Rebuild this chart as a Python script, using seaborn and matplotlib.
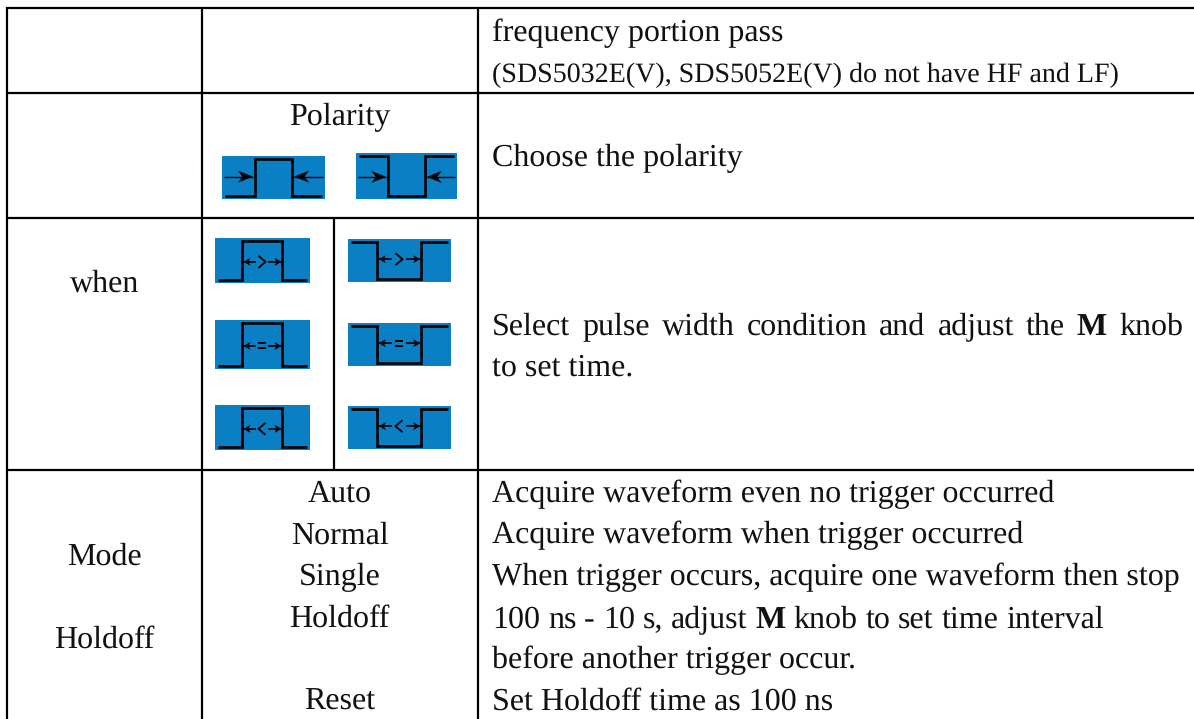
import matplotlib
matplotlib.use("Agg")
from matplotlib import pyplot as plt
import seaborn as sns

W, H = 1194, 719
TEXT_COLOR = "#111111"
ICON_COLOR = "#0a7fc4"
BODY_SIZE = 23.3
SMALL_SIZE = 20.0
TEXT_X = 492

# table grid, in image pixels
col_left, col_mid, col_sub, col_right = 7, 202, 334, 478
row_ys = [8, 93, 218, 470]

first_col_labels = ["when", "Mode", "Holdoff"]
first_col_base = [292, 565, 648]
mid_col_labels = ["Polarity", "Auto", "Normal", "Single", "Holdoff", "Reset"]
mid_col_base = [125, 502, 544, 585, 627, 710]
right_col_lines = [
    "frequency portion pass",
    "Choose the polarity",
    "to set time.",
    "Acquire waveform even no trigger occurred",
    "Acquire waveform when trigger occurred",
    "When trigger occurs, acquire one waveform then stop",
    "before another trigger occur.",
    "Set Holdoff time as 100 ns",
]
right_col_base = [41, 166, 376, 502, 543, 585, 668, 710]
small_note = "(SDS5032E(V), SDS5052E(V) do not have HF and LF)"
select_line = "Select pulse width condition and adjust the *M knob"
interval_line = "100 ns - 10 s, adjust *M knob to set time interval"

polarity_icons = [(222, 156, 325, 199, "up"), (356, 153, 457, 199, "down")]
width_icons = [
    (215, 238, 310, 283, "up", ">"),
    (215, 320, 310, 369, "up", "="),
    (215, 405, 310, 450, "up", "<"),
    (348, 239, 451, 282, "down", ">"),
    (348, 323, 451, 366, "down", "="),
    (348, 406, 451, 449, "down", "<"),
]

sns.set_theme(style="white")
plt.rcParams["font.family"] = ["Liberation Serif", "DejaVu Serif"]
plt.rcParams["text.hinting"] = "none"
plt.rcParams["text.hinting_factor"] = 1

fig = plt.figure(figsize=(W / 100, H / 100), dpi=100)
ax = fig.add_axes([0, 0, 1, 1])
renderer = fig.canvas.get_renderer()


def path(xs, ys, lw=1.6, color="black", z=3):
    sns.lineplot(x=xs, y=ys, sort=False, estimator=None, color=color, linewidth=lw,
                 legend=False, ax=ax, zorder=z, solid_capstyle="butt",
                 solid_joinstyle="miter")


def words(x, y, line, x_end, size=BODY_SIZE):
    # words starting with * are bold, x_end stretches the gaps to justify the line
    items = []
    for w in line.split(" "):
        bold = w.startswith("*")
        t = ax.text(x, y, w.lstrip("*"), fontsize=size, color=TEXT_COLOR, va="baseline",
                    fontweight="bold" if bold else "normal")
        items.append((t, t.get_window_extent(renderer).width))
    gap = (x_end - x - sum(i[1] for i in items)) / (len(items) - 1)
    pos = x
    for t, width in items:
        t.set_x(pos)
        pos += width + gap


def arrow(x0, x1, y, head_len, head_h, lw):
    path([x0, x1], [y, y], lw=lw)
    d = 1 if x1 > x0 else -1
    ax.fill([x1, x1 - d * head_len, x1 - d * head_len * 0.7, x1 - d * head_len],
            [y, y - head_h, y, y + head_h], color="black", lw=0, zorder=3)


def pulse(x0, y0, x1, y1, kind, edges):
    ax.fill([x0, x1, x1, x0], [y0, y0, y1, y1], color=ICON_COLOR, lw=0, zorder=1)
    w, h = x1 - x0, y1 - y0
    top, bot = y0 + 0.07 * h, y0 + 0.93 * h
    fx = [0.03, edges[0], edges[0], edges[1], edges[1], 0.97]
    fy = [bot, bot, top, top, bot, bot] if kind == "up" else [top, top, bot, bot, top, top]
    path([x0 + f * w for f in fx], fy, lw=1.9)


# grid
for ry in row_ys:
    path([col_left - 1, W], [ry, ry])
path([col_left, col_left], [row_ys[0] - 1, H])
path([col_mid, col_mid], [row_ys[0] - 1, H])
path([col_right, col_right], [row_ys[0] - 1, H])
path([col_sub, col_sub], [row_ys[2], row_ys[3]])

# text
for label, base in zip(first_col_labels, first_col_base):
    ax.text((col_left + col_mid) / 2, base, label, fontsize=BODY_SIZE, color=TEXT_COLOR,
            ha="center", va="baseline")
for label, base in zip(mid_col_labels, mid_col_base):
    ax.text((col_mid + col_right) / 2 - 0.5, base, label, fontsize=BODY_SIZE, color=TEXT_COLOR,
            ha="center", va="baseline")
for line, base in zip(right_col_lines, right_col_base):
    ax.text(TEXT_X, base, line, fontsize=BODY_SIZE, color=TEXT_COLOR, va="baseline")
ax.text(TEXT_X, 82, small_note, fontsize=SMALL_SIZE, color=TEXT_COLOR, va="baseline")
words(TEXT_X, 335, select_line, 1183)
words(TEXT_X, 628, interval_line, 1104)

# polarity icons
for x0, y0, x1, y1, kind in polarity_icons:
    pulse(x0, y0, x1, y1, kind, (0.32, 0.68))
    w, h = x1 - x0, y1 - y0
    ya = y0 + (0.48 if kind == "up" else 0.52) * h
    arrow(x0 + 0.02 * w, x0 + 0.30 * w, ya, 15, 6, 1.0)
    arrow(x0 + 0.98 * w, x0 + 0.70 * w, ya, 15, 6, 1.0)

# pulse width icons
for x0, y0, x1, y1, kind, sym in width_icons:
    pulse(x0, y0, x1, y1, kind, (0.28, 0.71))
    w, h = x1 - x0, y1 - y0
    ya = y0 + (0.53 if kind == "up" else 0.47) * h
    cx = x0 + 0.495 * w
    arrow(cx - 0.065 * w, x0 + 0.30 * w, ya, 7, 4, 1.2)
    arrow(cx + 0.065 * w, x0 + 0.70 * w, ya, 7, 4, 1.2)
    if sym == "=":
        path([cx - 4, cx + 4], [ya - 2.5, ya - 2.5], lw=1.4)
        path([cx - 4, cx + 4], [ya + 2.5, ya + 2.5], lw=1.4)
    else:
        d = 3.5 if sym == ">" else -3.5
        path([cx - d, cx + d, cx - d], [ya - 6, ya, ya + 6], lw=1.3)

ax.set_xlim(0, W)
ax.set_ylim(H, 0)
ax.axis("off")
fig.savefig("out.png", dpi=100, facecolor="white")
